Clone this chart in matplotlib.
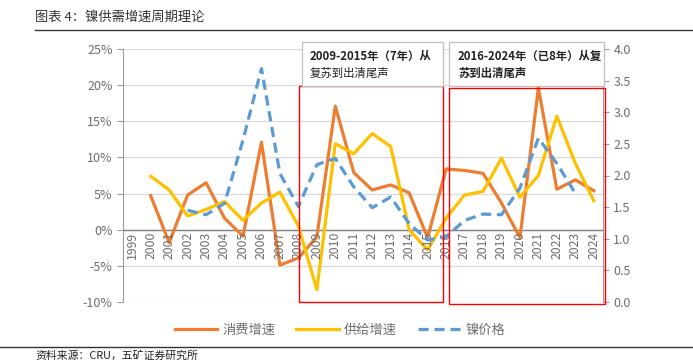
import matplotlib.pyplot as plt
import matplotlib.patches as patches
import numpy as np

plt.rcParams['font.family'] = ['Noto Sans CJK SC', 'DejaVu Sans']

years = [str(y) for y in range(1999, 2025)]
# 消费增速 (%), starts 2000
consumption = [None, 4.7, -1.8, 4.8, 6.5, 1.6, -0.9, 12.1, -4.9, -3.9, -1.0,
               17.1, 7.9, 5.5, 6.2, 5.1, -1.1, 8.4, 8.2, 7.8, 3.7, -1.1,
               19.6, 5.6, 6.9, 5.4]
# 供给增速 (%)
supply = [None, 7.4, 5.5, 1.9, 2.8, 3.9, 1.3, 3.7, 5.2, 0.5, -8.3,
          11.9, 10.5, 13.3, 11.5, 0.0, -2.8, 1.6, 4.8, 5.3, 9.9, 4.5,
          7.5, 15.7, 9.2, 4.0]
# 镍价格 (right axis)
price = [None, None, None, 1.45, 1.38, 1.56, 2.56, 3.69, 2.03, 1.51, 2.17,
         2.27, 1.82, 1.49, 1.66, 1.24, 0.98, 1.03, 1.29, 1.39, 1.38, 1.80,
         2.59, 2.19, 1.72, None]

def arr(v):
    return np.array([np.nan if x is None else x for x in v], dtype=float)

x = np.arange(len(years))
gray = '#6e6e6e'

fig = plt.figure(figsize=(6.93, 3.62), dpi=100)
ax = fig.add_axes([123/693, 1 - 302/362, 480/693, 253/362])
ax2 = ax.twinx()

ax.plot(x, arr(consumption) / 100, color='#ED7D31', lw=2.3, label='消费增速', zorder=3)
ax.plot(x, arr(supply) / 100, color='#FFC000', lw=2.3, label='供给增速', zorder=4)
ax2.plot(x, arr(price), color='#5B9BD5', lw=2.3, ls=(0, (3.2, 1.8)), label='镍价格', zorder=2)

ax.set_xlim(-0.5, 25.5)
ax.set_ylim(-0.10, 0.25)
ax2.set_ylim(0, 4)
ax.set_yticks(np.arange(-0.10, 0.251, 0.05))
ax.set_yticklabels([f'{int(round(v*100))}%' for v in np.arange(-0.10, 0.251, 0.05)])
ax2.set_yticks(np.arange(0, 4.01, 0.5))
ax2.set_yticklabels([f'{v:.1f}' for v in np.arange(0, 4.01, 0.5)])

for a in (ax, ax2):
    a.tick_params(axis='y', colors=gray, labelsize=9, length=4, width=0.8, color='#999999')
    for s in a.spines.values():
        s.set_visible(False)
ax.spines['left'].set_visible(True)
ax.spines['left'].set_color('#999999')
ax2.spines['right'].set_visible(True)
ax2.spines['right'].set_color('#999999')

ax.grid(axis='y', color='#d9d9d9', lw=0.9)
ax.set_axisbelow(True)
ax.axhline(0, color='#808080', lw=1.0, zorder=1)

ax.set_xticks([])
for i, yr in enumerate(years):
    ax.text(i, -0.003, yr, rotation=90, ha='center', va='top', fontsize=8.8,
            color=gray, zorder=5)

# highlight boxes
fig.patches.append(patches.Rectangle((299/693, 1 - 302/362), 144/693, 216/362,
                                     transform=fig.transFigure, fill=False,
                                     ec='#FF0000', lw=1.0, zorder=10))
fig.patches.append(patches.Rectangle((449/693, 1 - 304/362), 156/693, 216/362,
                                     transform=fig.transFigure, fill=False,
                                     ec='#FF0000', lw=1.0, zorder=10))
fig.patches.append(patches.Rectangle((302/693, 1 - 86/362), 141/693, 44/362,
                                     transform=fig.transFigure, fc='white',
                                     ec='#bfbfbf', lw=0.9, zorder=10))
fig.patches.append(patches.Rectangle((449/693, 1 - 86/362), 155/693, 44/362,
                                     transform=fig.transFigure, fc='white',
                                     ec='#bfbfbf', lw=0.9, zorder=10))
fig.text(310/693, 1 - 56/362, '2009-2015年（7年）从', fontsize=8.2,
         fontweight='bold', color='#222222', va='center', zorder=11)
fig.text(310/693, 1 - 73/362, '复苏到出清尾声', fontsize=8.2,
         color='#222222', va='center', zorder=11)
fig.text(458/693, 1 - 56/362, '2016-2024年（已8年）从复', fontsize=8.2,
         fontweight='bold', color='#222222', va='center', zorder=11)
fig.text(458/693, 1 - 73/362, '苏到出清尾声', fontsize=8.2,
         fontweight='bold', color='#222222', va='center', zorder=11)

# legend
h1, l1 = ax.get_legend_handles_labels()
h2, l2 = ax2.get_legend_handles_labels()
fig.legend(h1 + h2, l1 + l2, loc='center', bbox_to_anchor=(340/693, 1 - 330/362),
           ncol=3, frameon=False, fontsize=9.5, labelcolor=gray,
           handlelength=3.2, columnspacing=1.6, handletextpad=0.4)

# title and footer
fig.text(35/693, 1 - 17/362, '图表 4：镍供需增速周期理论', fontsize=9.5,
         color='#333333', va='center')
fig.add_artist(plt.Line2D([35/693, 1], [1 - 30/362, 1 - 30/362],
                          transform=fig.transFigure, color='#333333', lw=1.0))
fig.add_artist(plt.Line2D([0, 1], [1 - 347/362, 1 - 347/362],
                          transform=fig.transFigure, color='#333333', lw=1.0))
fig.text(35/693, 1 - 355/362, '资料来源：CRU，五矿证券研究所', fontsize=7.8,
         color='#222222', va='center')

fig.savefig('out.png', dpi=100)
